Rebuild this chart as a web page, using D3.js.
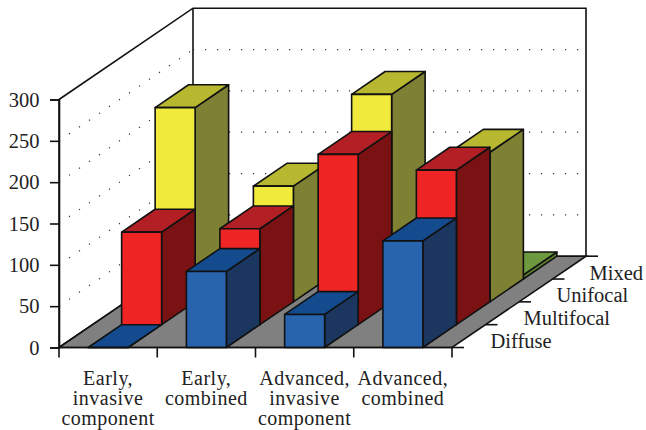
<!DOCTYPE html>
<html><head><meta charset="utf-8">
<script src="https://cdn.jsdelivr.net/npm/d3@7/dist/d3.min.js"></script>
<style>
html,body{margin:0;padding:0;background:#fff}
svg{display:block}
text{font-family:"Liberation Serif",serif;fill:#222}
</style></head><body>
<svg id="c" width="646" height="430"></svg>
<script>
const categories = [["Early,","invasive","component"],["Early,","combined"],["Advanced,","invasive","component"],["Advanced,","combined"]];
const seriesNames = ["Diffuse","Multifocal","Unifocal","Mixed"];
const diffuse = [0, 92, 40, 129];
const multifocal = [112, 116, 206, 187];
const unifocal = [235, 140, 251, 181];
const mixed = [0, 0, 0, 5];
const yTicks = [0,50,100,150,200,250,300];
const frontColors = ["#2863ae","#ef2424","#efea3c","#7fa845"];
const topColors = ["#134b8e","#b21f24","#b8b830","#6d9a3e"];
const sideColors = ["#1b365f","#7a1214","#7e8033","#5e8030"];

const svg = d3.select("#c");
const values = [diffuse, multifocal, unifocal, mixed];
const keys = categories.map((c,i)=>i);
const X0=59, X1=452, Y0=347.5, Y300=99.5, DX=134, DY=-91.3;
const x = d3.scaleBand().domain(keys).range([X0,X1]).paddingInner(0.593).paddingOuter(0.2965);
const xEdge = d3.scaleLinear().domain([0,4]).range([X0,X1]);
const y = d3.scaleLinear().domain([0,300]).range([Y0,Y300]);
const dz = d3.scaleLinear().domain([0,4]).range([0,DX]);
const dw = d3.scaleLinear().domain([0,4]).range([0,DY]);
const line = d3.line();
const poly = pts => line(pts)+"Z";
const ink = "#111";
const sw = 1.6;

// walls
svg.append("path").attr("fill","#fff").attr("stroke",ink).attr("stroke-width",sw)
  .attr("d",poly([[X0,Y0],[X0,Y300],[X0+DX,Y300+DY],[X1+DX,Y300+DY],[X1+DX,Y0+DY],[X0+DX,Y0+DY]]));
svg.append("line").attr("x1",X0+DX).attr("x2",X0+DX).attr("y1",Y300+DY).attr("y2",Y0+DY).attr("stroke",ink).attr("stroke-width",sw);

// gridlines (dotted)
yTicks.filter(t=>t>0&&t<300).forEach(t=>{
  svg.append("path").attr("fill","none").attr("stroke","#333").attr("stroke-width",1.2)
    .attr("stroke-dasharray","1.2 10.9").attr("d",line([[X0,y(t)],[X0+DX,y(t)+DY]]));
  svg.append("path").attr("fill","none").attr("stroke","#333").attr("stroke-width",1.2)
    .attr("stroke-dasharray","1.2 10.8").attr("d",line([[X0+DX,y(t)+DY],[X1+DX,y(t)+DY]]));
});
// floor
svg.append("path").attr("fill","#808080").attr("stroke",ink).attr("stroke-width",sw)
  .attr("d",poly([[X0,Y0],[X1,Y0],[X1+DX,Y0+DY],[X0+DX,Y0+DY]]));

// bars, back row first
d3.range(3,-1,-1).forEach(r=>{
  keys.forEach(k=>{
    const v = values[r][k];
    if(v<=0 && r===3) return;
    const ox=dz(r), oy=dw(r), ddx=dz(1), ddy=dw(1);
    const l=x(k)+ox, w=x.bandwidth(), b=Y0+oy, t=y(v)+oy;
    const g = svg.append("g").attr("stroke",ink).attr("stroke-width",sw).attr("stroke-linejoin","round");
    g.append("path").attr("fill",sideColors[r]).attr("d",poly([[l+w,b],[l+w,t],[l+w+ddx,t+ddy],[l+w+ddx,b+ddy]]));
    g.append("path").attr("fill",topColors[r]).attr("d",poly([[l,t],[l+w,t],[l+w+ddx,t+ddy],[l+ddx,t+ddy]]));
    g.append("path").attr("fill",frontColors[r]).attr("d",poly([[l,b],[l+w,b],[l+w,t],[l,t]]));
  });
});

// y axis
const yAxis = d3.axisLeft(y).tickValues(yTicks).tickSize(9).tickPadding(10.5).tickFormat(d3.format("d"));
const ga = svg.append("g").attr("transform",`translate(${X0},0)`).call(yAxis);
ga.select(".domain").attr("stroke",ink).attr("stroke-width",sw);
ga.selectAll(".tick line").attr("stroke",ink).attr("stroke-width",sw);
ga.selectAll(".tick text").attr("font-size",20.5).attr("font-family","Liberation Serif").attr("fill","#222");

// x ticks and floor line
d3.range(5).forEach(i=>{
  svg.append("line").attr("x1",xEdge(i)).attr("x2",xEdge(i)).attr("y1",Y0).attr("y2",Y0+10).attr("stroke",ink).attr("stroke-width",sw);
});
svg.append("line").attr("x1",X0).attr("x2",X1).attr("y1",Y0).attr("y2",Y0).attr("stroke",ink).attr("stroke-width",sw);
// category labels
const lineY = [384.5,404.7,424.9];
categories.forEach((c,i)=>{
  const t = svg.append("text").attr("text-anchor","middle").attr("font-size",20).attr("letter-spacing",0.5);
  c.forEach((s,j)=>t.append("tspan").attr("x",(xEdge(i)+xEdge(i+1))/2).attr("y",lineY[j]).text(s));
});
// depth ticks and labels
d3.range(5).forEach(i=>{
  const px=X1+dz(i), py=Y0+dw(i);
  svg.append("line").attr("x1",px).attr("x2",px+12).attr("y1",py).attr("y2",py).attr("stroke",ink).attr("stroke-width",sw);
});
seriesNames.forEach((s,i)=>{
  svg.append("text").attr("x",X1+38.5+dz(i)*0.985).attr("y",Y0+dw(i)+0.5).attr("font-size",20.5).text(s);
});
</script>
</body></html>
